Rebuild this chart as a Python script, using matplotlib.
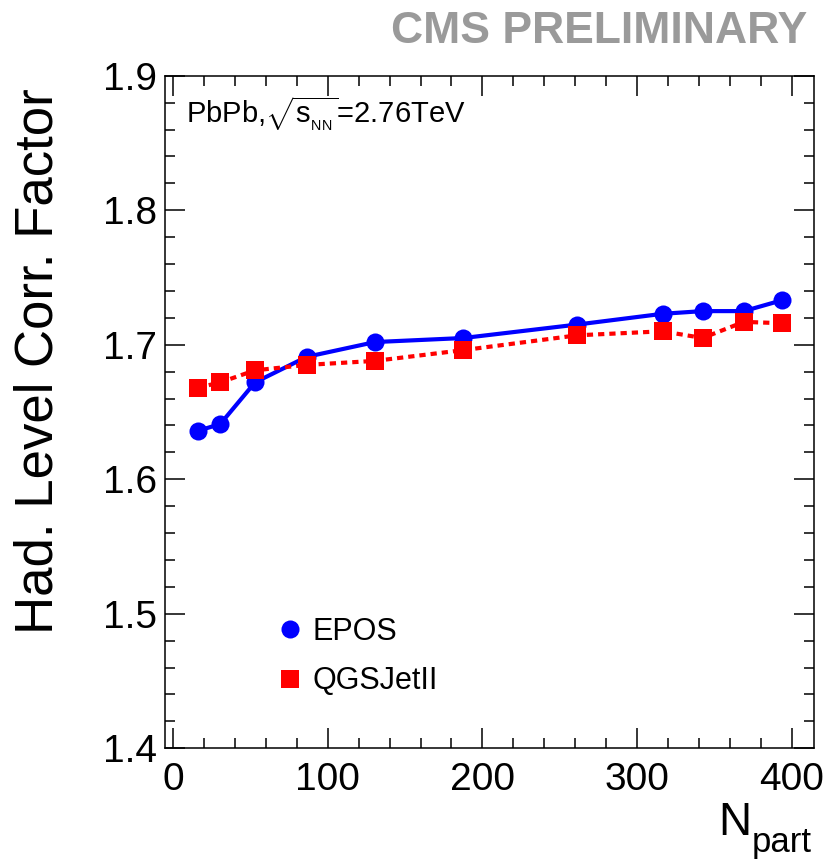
import matplotlib
matplotlib.use("Agg")
import matplotlib.pyplot as plt
from matplotlib.lines import Line2D
from matplotlib.ticker import MultipleLocator, FormatStrFormatter

plt.rcParams['font.family'] = ['Liberation Sans', 'DejaVu Sans']
plt.rcParams['mathtext.fontset'] = 'custom'
plt.rcParams['mathtext.rm'] = 'Liberation Sans'
plt.rcParams['mathtext.it'] = 'Liberation Sans:italic'

# data
npart = [16, 30.5, 53, 86.4, 130.6, 187.7, 261.3, 316.5, 342.4, 369.1, 393.5]
epos = [1.636, 1.641, 1.672, 1.691, 1.702, 1.705, 1.715, 1.723, 1.725, 1.725, 1.733]
qgsjet = [1.668, 1.672, 1.681, 1.685, 1.688, 1.696, 1.707, 1.710, 1.705, 1.717, 1.716]

W, H = 833, 860
fig = plt.figure(figsize=(W / 100, H / 100), dpi=100)
ax = fig.add_axes([165 / W, 1 - 748.3 / H, (814 - 165) / W, (748.3 - 75.7) / H])

ax.plot(npart, epos, color='#0000ff', lw=3.0, marker='o', ms=13, mew=0)
ax.plot(npart, qgsjet, color='#ff0000', lw=3.0, ls=(0, (1.5, 1.2)),
        marker='s', ms=13, mew=0)

ax.set_xlim(-5.2, 414.4)
ax.set_ylim(1.4, 1.9)
ax.xaxis.set_major_locator(MultipleLocator(100))
ax.xaxis.set_minor_locator(MultipleLocator(20))
ax.yaxis.set_major_locator(MultipleLocator(0.1))
ax.yaxis.set_minor_locator(MultipleLocator(0.02))
ax.yaxis.set_major_formatter(FormatStrFormatter('%.1f'))
ax.tick_params(which='both', direction='in', top=True, right=True, width=1.1)
ax.tick_params(which='major', length=14.4, labelsize=28)
ax.tick_params(which='minor', length=7.2)
ax.tick_params(axis='x', pad=10)
ax.tick_params(axis='y', pad=6)
for s in ax.spines.values():
    s.set_linewidth(1.1)

# legend with marker only
handles = [Line2D([], [], ls='none', marker='o', color='#0000ff', ms=13, mew=0),
           Line2D([], [], ls='none', marker='s', color='#ff0000', ms=13, mew=0)]
ax.legend(handles, ['EPOS', 'QGSJetII'], loc='upper left', frameon=False,
          bbox_to_anchor=(274.7 / W, 1 - 617 / H), bbox_transform=fig.transFigure,
          fontsize=22, handlelength=1.0, handletextpad=0.25, labelspacing=0.63,
          borderpad=0, borderaxespad=0)

fig.text(186 / W, 1 - 123.3 / H,
         r'PbPb,$\sqrt{\mathrm{s}_{_{\mathrm{NN}}}}$=2.76TeV',
         fontsize=21, ha='left', va='baseline')

fig.text(53 / W, 1 - 88 / H, 'Had. Level Corr. Factor', fontsize=38,
         rotation=90, rotation_mode='anchor', ha='right', va='baseline')

fig.text(751 / W, 1 - 835 / H, 'N', fontsize=33, ha='right', va='baseline')
fig.text(812 / W, 1 - 852 / H, 'part', fontsize=25, ha='right', va='baseline')

fig.text(807 / W, 1 - 43 / H, 'CMS PRELIMINARY', fontsize=32, fontweight='bold',
         color='#9a9a9a', ha='right', va='baseline')

fig.savefig('out.png', dpi=100)
